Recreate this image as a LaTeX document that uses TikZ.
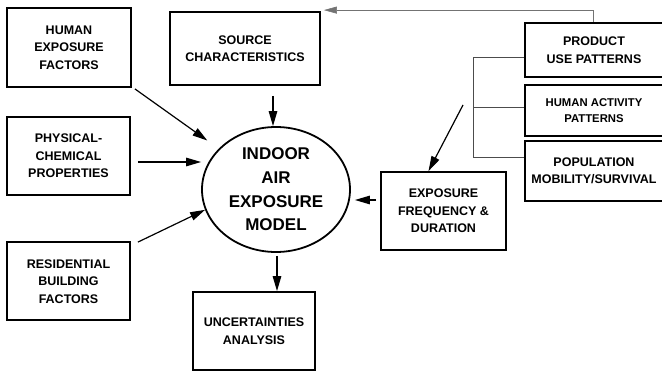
\documentclass[tikz,border=0pt]{standalone}
\usepackage{fontspec}
\setmainfont{Liberation Sans}
\usetikzlibrary{arrows.meta,shapes.geometric,calc}

\tikzset{
  box/.style={draw, line width=1.8pt, align=center, inner sep=2pt,
    font=\bfseries\fontsize{12.5}{17.5}\selectfont},
  modelshape/.style={ellipse, draw, line width=1.8pt, align=center, inner sep=0pt,
    minimum width=148pt, minimum height=125pt,
    font=\bfseries\fontsize{17}{23.6}\selectfont},
  arr/.style={line width=1.2pt, -{Triangle[length=15pt,width=8.5pt]}},
  feed/.style={line width=0.6pt, draw=black!55, -{Triangle[length=13pt,width=7pt]}},
  bracket/.style={line width=0.9pt, draw=black!70},
}

\begin{document}
\begin{tikzpicture}[x=1pt,y=-1pt]
\useasboundingbox (0,0) rectangle (662,372);
\clip (0,0) rectangle (662,372);

% input boxes on the left
\node[box, minimum width=124pt, minimum height=79pt] (hef) at (69,47.5)
  {HUMAN\\EXPOSURE\\FACTORS};
\node[box, minimum width=123pt, minimum height=78pt] (pcp) at (68.5,156)
  {PHYSICAL-\\CHEMICAL\\PROPERTIES};
\node[box, minimum width=123pt, minimum height=78pt] (rbf) at (68.5,281)
  {\\[-8pt]RESIDENTIAL\\BUILDING\\FACTORS};

% source, model and output
\node[box, minimum width=150pt, minimum height=73pt] (src) at (245,48.5)
  {SOURCE\\CHARACTERISTICS};
\node[modelshape] (model) at (276,189.5)
  {INDOOR\\AIR\\EXPOSURE\\MODEL};
\node[box, minimum width=122pt, minimum height=78pt] (unc) at (254,331)
  {\\[-8pt]UNCERTAINTIES\\ANALYSIS};

% exposure frequency and the pattern boxes on the right
\node[box, minimum width=125pt, minimum height=78pt] (efd) at (443.5,211)
  {EXPOSURE\\FREQUENCY \&\\DURATION};
\node[box, minimum width=138pt, minimum height=54pt] (pup) at (594,50)
  {PRODUCT\\USE PATTERNS};
\node[box, minimum width=138pt, minimum height=51pt,
      font=\bfseries\fontsize{11.3}{16.5}\selectfont] (hap) at (594,110.5)
  {HUMAN ACTIVITY\\PATTERNS};
\node[box, minimum width=138pt, minimum height=60pt] (pop) at (594,171)
  {POPULATION\\MOBILITY/SURVIVAL};

% bracket joining the three pattern boxes
\coordinate (b1) at (473,57);
\coordinate (b2) at (473,107);
\coordinate (b3) at (473,157);
\draw[bracket] (b1 -| pup.west) -- (b1) -- (b3) -- (b3 -| pop.west);
\draw[bracket] (b2) -- (b2 -| hap.west);

% arrow from the bracket down to the exposure box
\coordinate (bf) at (463,105);
\draw[arr] (bf) -- ([xshift=-15pt]efd.north);

% feedback from product use to source characteristics
\draw[feed] ([xshift=-1pt]pup.north) |- ([shift={(3pt,1pt)}]src.north east);

% arrows into the model
\coordinate (hs) at ([shift={(3,1)}]hef.south east);
\draw[arr, shorten >=14pt] (hs) -- (model);
\coordinate (ps) at ([shift={(7,6)}]pcp.east);
\draw[arr] (ps) -- (ps -| model.west);
\coordinate (rs) at ([shift={(7,1)}]rbf.north east);
\draw[arr] (rs) -- (model.196);
\coordinate (ss) at ($(src.south -| model.north)+(-3,10)$);
\draw[arr] (ss) -- (ss |- model.north);
\coordinate (es) at ([shift={(-4,-11)}]efd.west);
\draw[arr, shorten >=4pt] (es) -- (es -| model.east);

% model to uncertainty analysis
\coordinate (ms) at ($(model.south)+(1,3)$);
\draw[arr] (ms) -- (ms |- unc.north);
\end{tikzpicture}
\end{document}
